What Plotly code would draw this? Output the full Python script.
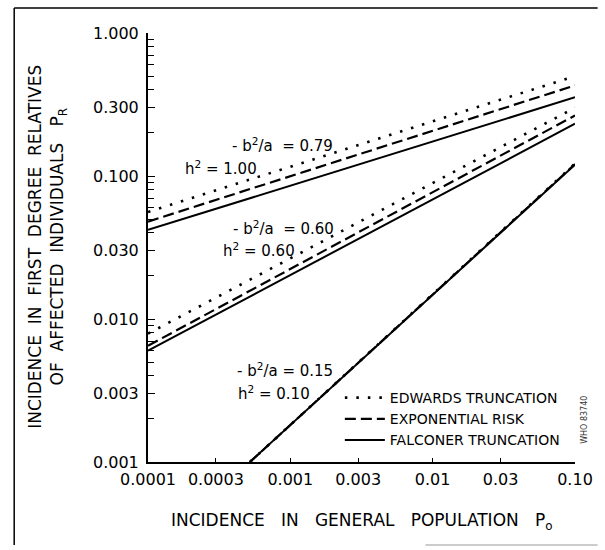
import plotly.graph_objects as go

# ---------------- data ----------------
series_names = ["EDWARDS TRUNCATION", "EXPONENTIAL RISK", "FALCONER TRUNCATION"]

# group h2 = 1.00  (-b2/a = 0.79)
x_high = [0.0001, 0.1]
y_high_edwards = [0.056, 0.50]
y_high_expo = [0.048, 0.43]
y_high_falconer = [0.042, 0.355]

# group h2 = 0.60  (-b2/a = 0.60)
x_mid = [0.0001, 0.1]
y_mid_edwards = [0.0079, 0.30]
y_mid_expo = [0.0065, 0.265]
y_mid_falconer = [0.0060, 0.232]

# group h2 = 0.10  (-b2/a = 0.15)
x_low = [0.00052, 0.1]
y_low_edwards = [0.001, 0.122]
y_low_expo = [0.001, 0.121]
y_low_falconer = [0.001, 0.120]

x_tickvals = [0.0001, 0.0003, 0.001, 0.003, 0.01, 0.03, 0.1]
x_ticktext = ["0.0001", "0.0003", "0.001", "0.003", "0.01", "0.03", "0.10"]
y_tickvals = [0.001, 0.003, 0.01, 0.03, 0.1, 0.3, 1.0]
y_ticktext = ["0.001", "0.003", "0.010", "0.030", "0.100", "0.300", "1.000"]
y_minor = [m * 10.0 ** e for e in (-3, -2, -1) for m in (2, 4, 5, 6, 7, 8, 9)]

group_labels = [
    ("- b<sup>2</sup>/a&nbsp; = 0.79", "h<sup>2</sup> = 1.00"),
    ("- b<sup>2</sup>/a&nbsp; = 0.60", "h<sup>2</sup> = 0.60"),
    ("- b<sup>2</sup>/a = 0.15", "h<sup>2</sup> = 0.10"),
]

# ---------------- figure ----------------
FONT = "DejaVu Sans"
styles = [
    dict(color="black", width=2.6, dash="2.5px,9px"),
    dict(color="black", width=2.2, dash="11px,5px"),
    dict(color="black", width=2.0, dash="solid"),
]

fig = go.Figure()
groups = [
    (x_high, [y_high_edwards, y_high_expo, y_high_falconer]),
    (x_mid, [y_mid_edwards, y_mid_expo, y_mid_falconer]),
    (x_low, [y_low_edwards, y_low_expo, y_low_falconer]),
]
for gi, (xs, ys_list) in enumerate(groups):
    for si, ys in enumerate(ys_list):
        fig.add_trace(go.Scatter(
            x=xs, y=ys, mode="lines", name=series_names[si],
            legendgroup=series_names[si], showlegend=(gi == 0),
            line=styles[si], hoverinfo="skip",
        ))

W_PX, X0, X1 = 605, 148, 582
Y0, Y1 = 33, 462


def px(xp):
    return (xp - X0) / (X1 - X0)


def py(yp):
    return (Y1 - yp) / (Y1 - Y0)


def note(text, x, y, size, angle=0, color="black"):
    fig.add_annotation(x=px(x), y=py(y), xref="paper", yref="paper", text=text,
                       textangle=angle, showarrow=False,
                       xanchor="center", yanchor="middle",
                       font=dict(family=FONT, size=size, color=color))


label_pos = [((285, 145), (222, 168)), ((286, 228), (261, 250)), ((287, 370), (276, 393))]
for (t1, t2), ((ax1, ay1), (ax2, ay2)) in zip(group_labels, label_pos):
    note(t1, ax1, ay1, 15)
    note(t2, ax2, ay2, 15)

# axis titles
note("INCIDENCE&nbsp; IN&nbsp; FIRST&nbsp; DEGREE&nbsp; RELATIVES", 33, 247, 17, -90)
note("OF&nbsp; AFFECTED&nbsp; INDIVIDUALS&nbsp;&nbsp; P<sub>R</sub>", 57, 247, 17, -90)
note("INCIDENCE&nbsp;&nbsp; IN&nbsp;&nbsp; GENERAL&nbsp;&nbsp; POPULATION&nbsp;&nbsp; P<sub>o</sub>",
     365, 521, 17)
note("WHO 83740", 591, 420, 8, -90, "#333")

# scanned page frame
fig.add_shape(type="line", xref="paper", yref="paper", x0=px(12), x1=px(605),
              y0=py(8), y1=py(8), line=dict(color="black", width=1.5))
fig.add_shape(type="line", xref="paper", yref="paper", x0=px(12), x1=px(12),
              y0=py(8), y1=py(545), line=dict(color="black", width=1.5))
fig.add_shape(type="line", xref="paper", yref="paper", x0=px(430), x1=px(605),
              y0=py(545), y1=py(545), line=dict(color="#bbbbbb", width=1.5))

fig.update_xaxes(
    type="log", range=[-4, -1], tickvals=x_tickvals, ticktext=x_ticktext,
    ticks="inside", ticklen=4, tickwidth=1, tickcolor="black",
    showline=True, linecolor="black", linewidth=2, showgrid=False, zeroline=False,
    tickfont=dict(family=FONT, size=16, color="black"), ticklabelstandoff=2,
)
fig.update_yaxes(
    type="log", range=[-3, 0], tickvals=y_tickvals, ticktext=y_ticktext,
    ticks="inside", ticklen=7, tickwidth=1, tickcolor="black",
    minor=dict(tickvals=y_minor, ticks="inside", ticklen=6, tickcolor="black", tickwidth=1),
    showline=True, linecolor="black", linewidth=2, showgrid=False, zeroline=False,
    tickfont=dict(family=FONT, size=16, color="black"), ticklabelstandoff=4,
)

fig.update_layout(
    width=605, height=550,
    margin=dict(l=X0, r=W_PX - X1, t=Y0, b=550 - Y1, pad=0),
    paper_bgcolor="white", plot_bgcolor="white",
    showlegend=True,
    legend=dict(x=px(343), y=py(382), xanchor="left", yanchor="top",
                bgcolor="rgba(0,0,0,0)", borderwidth=0, tracegroupgap=0,
                itemwidth=40,
                font=dict(family=FONT, size=14, color="black")),
)

fig.write_html("out.html", config={"displayModeBar": False},
               post_script="document.body.style.margin='0px';")
